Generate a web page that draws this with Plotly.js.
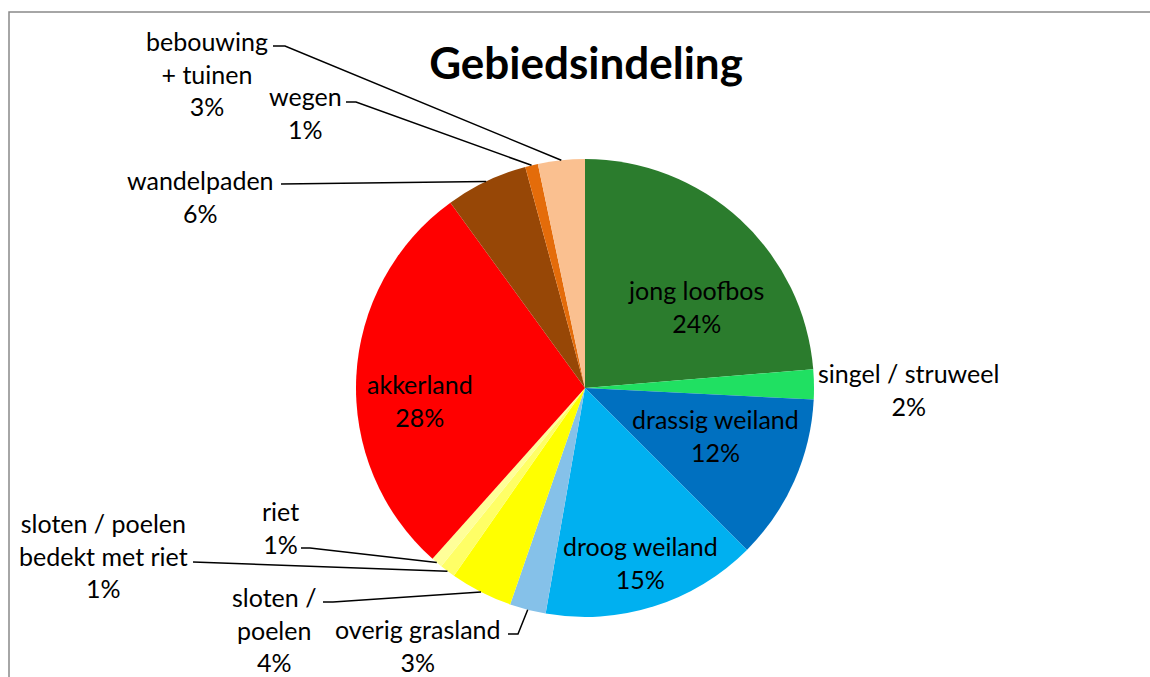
<!DOCTYPE html>
<html>
<head>
<meta charset="utf-8">
<script src="https://cdn.plot.ly/plotly-3.0.1.min.js"></script>
<style>
  html, body { margin: 0; padding: 0; background: #fff; }
  #chart { width: 1150px; height: 677px; }
</style>
</head>
<body>
<div id="chart"></div>
<script>
// data, clockwise from 12 o'clock
const categories = ['jong loofbos', 'singel / struweel', 'drassig weiland', 'droog weiland',
  'overig grasland', 'sloten / poelen', 'sloten / poelen bedekt met riet', 'riet',
  'akkerland', 'wandelpaden', 'wegen', 'bebouwing + tuinen'];
const shares = [23.7, 2.1, 11.7, 15.25, 2.55, 4.4, 1.1, 0.8, 28.4, 5.8, 0.9, 3.3];
const labelText = ['jong loofbos', 'singel / struweel', 'drassig weiland', 'droog weiland',
  'overig grasland', 'sloten /<br>poelen', 'sloten / poelen<br>bedekt met riet', 'riet',
  'akkerland', 'wandelpaden', 'wegen', 'bebouwing<br>+ tuinen'];
const sliceColors = ['#2b7c2d', '#20e062', '#0070c0', '#00b0f0', '#85c1e9', '#ffff00',
  '#ffff66', '#ffff99', '#ff0000', '#974706', '#e46c0a', '#fac090'];

const W = 1150, H = 677;
const CX = 585, CY = 388, R = 229;
const FONT = 'Lato, "Open Sans", sans-serif';

// label placement (pixels): text centre, and optional leader start + knee
const labelPos = [
  { x: 696, y: 306 },
  { x: 908, y: 389 },
  { x: 715, y: 435 },
  { x: 640, y: 562 },
  { x: 418, y: 645, lead: [[508, 634], [518, 634]] },
  { x: 274, y: 629, lead: [[323, 602], [333, 602]] },
  { x: 103, y: 555, lead: [[193, 562]] },
  { x: 280, y: 527, lead: [[301, 548], [310, 548]] },
  { x: 420, y: 400 },
  { x: 200, y: 196, lead: [[281, 184]] },
  { x: 305, y: 112, lead: [[346, 102], [356, 102]] },
  { x: 207, y: 73, lead: [[273, 46], [285, 46]] },
];

const px = x => x / W;
const py = y => 1 - y / H;

const total = shares.reduce((a, b) => a + b, 0);
const pct = shares.map(v => Math.round(v / total * 100));

const annotations = categories.map((c, i) => ({
  text: labelText[i] + '<br>' + pct[i] + '%',
  x: px(labelPos[i].x), y: py(labelPos[i].y),
  xref: 'paper', yref: 'paper', xanchor: 'center', yanchor: 'middle',
  showarrow: false, align: 'center',
  font: { family: FONT, size: 25, color: '#000' },
}));

// leader lines from label to the middle of each slice's outer edge
const shapes = [];
let cum = 0;
shares.forEach((v, i) => {
  const mid = (cum + v / 2) / total * 2 * Math.PI;
  cum += v;
  const lead = labelPos[i].lead;
  if (!lead) return;
  const ex = CX + R * Math.sin(mid);
  const ey = CY - R * Math.cos(mid);
  const pts = lead.concat([[ex, ey]]);
  const path = pts.map((p, k) => (k ? 'L' : 'M') + px(p[0]).toFixed(5) + ',' + py(p[1]).toFixed(5)).join(' ');
  shapes.push({ type: 'path', path, xref: 'paper', yref: 'paper', line: { color: '#000', width: 1.5 } });
});

// chart area border
shapes.push({
  type: 'rect', xref: 'paper', yref: 'paper',
  x0: px(9), y0: -0.05, x1: 1.05, y1: py(12),
  line: { color: '#898989', width: 1.5 },
});

const data = [{
  type: 'pie',
  labels: categories,
  values: shares,
  sort: false,
  direction: 'clockwise',
  rotation: 0,
  marker: { colors: sliceColors, line: { width: 0 } },
  textinfo: 'none',
  hoverinfo: 'label+percent',
  showlegend: false,
  domain: { x: [px(CX - R), px(CX + R)], y: [py(CY + R), py(CY - R)] },
}];

const layout = {
  width: W,
  height: H,
  margin: { l: 0, r: 0, t: 0, b: 0 },
  paper_bgcolor: '#fff',
  title: {
    text: '<b>Gebiedsindeling</b>',
    x: px(586), y: py(64), xanchor: 'center', yanchor: 'middle',
    font: { family: FONT, size: 44, color: '#000' },
  },
  annotations,
  shapes,
};

Plotly.newPlot('chart', data, layout, { displayModeBar: false });
</script>
</body>
</html>
